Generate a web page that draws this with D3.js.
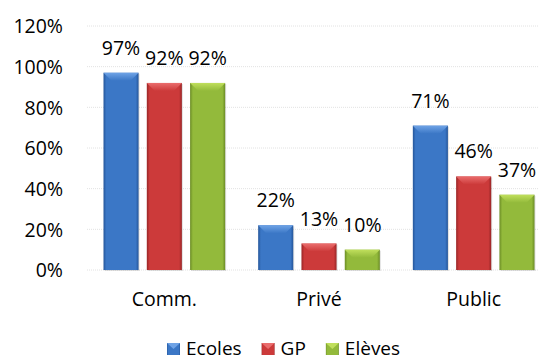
<!DOCTYPE html>
<html>
<head>
<meta charset="utf-8">
<script src="https://cdn.jsdelivr.net/npm/d3@7/dist/d3.min.js"></script>
<style>
html,body{margin:0;padding:0;background:#fff;}
svg{display:block;font-family:"Open Sans",sans-serif;}
</style>
</head>
<body>
<svg id="chart" width="539" height="360"></svg>
<script>
const categories = ["Comm.", "Privé", "Public"];
const seriesNames = ["Ecoles", "GP", "Elèves"];
const ecoles = [0.97, 0.22, 0.71];
const gp = [0.92, 0.13, 0.46];
const eleves = [0.92, 0.10, 0.37];
const tickValues = [0, 0.2, 0.4, 0.6, 0.8, 1.0, 1.2];
const seriesValues = [ecoles, gp, eleves];
const colors = {
  "Ecoles": {mid:"#3b77c6", dark:"#25569a", light:"#6fa3e6"},
  "GP": {mid:"#cc3a3a", dark:"#982526", light:"#ea6d6d"},
  "Elèves": {mid:"#93ba3b", dark:"#6b8c25", light:"#c0df5c"}
};

const svg = d3.select("#chart");
const defs = svg.append("defs");
seriesNames.forEach((s,i)=>{
  const c = colors[s];
  const g = defs.append("linearGradient").attr("id","g"+i).attr("x1","0").attr("x2","1").attr("y1","0").attr("y2","0");
  g.append("stop").attr("offset","0").attr("stop-color",c.dark);
  g.append("stop").attr("offset","0.08").attr("stop-color",c.mid);
  g.append("stop").attr("offset","0.92").attr("stop-color",c.mid);
  g.append("stop").attr("offset","1").attr("stop-color",c.dark);
  const t = defs.append("linearGradient").attr("id","t"+i).attr("x1","0").attr("x2","0").attr("y1","0").attr("y2","1");
  t.append("stop").attr("offset","0").attr("stop-color",c.light);
  t.append("stop").attr("offset","1").attr("stop-color",c.mid);
});

const y = d3.scaleLinear().domain([0,1.2]).range([270,26]);
const x = d3.scaleBand().domain(categories).range([87,551]).paddingInner(0).paddingOuter(0);
const xs = d3.scaleBand().domain(seriesNames).range([16.5, x.bandwidth()-16.5]).paddingInner(0.19).paddingOuter(0);

// gridlines
svg.append("g").selectAll("line").data(tickValues).join("line")
  .attr("x1",87).attr("x2",539)
  .attr("y1",d=>y(d)).attr("y2",d=>y(d))
  .attr("stroke","#e2e2e2").attr("stroke-width",1).attr("stroke-dasharray","1,1");

// y axis labels
const yAxis = d3.axisLeft(y).tickValues(tickValues).tickFormat(d3.format(".0%")).tickSize(0).tickPadding(0);
const ya = svg.append("g").attr("transform","translate(63,0)").call(yAxis);
ya.select(".domain").remove();
ya.selectAll("text").attr("font-size",19.5).attr("font-family","Open Sans").attr("fill","#000").attr("dy","0.35em");

// x axis labels
const xAxis = d3.axisBottom(x).tickSize(0).tickPadding(0);
const xa = svg.append("g").attr("transform","translate(0,292)").call(xAxis);
xa.select(".domain").remove();
xa.selectAll("text").attr("font-size",19.5).attr("font-family","Open Sans").attr("fill","#000");

// bars
const bev = 8;
categories.forEach((cat,ci)=>{
  seriesNames.forEach((s,si)=>{
    const v = seriesValues[si][ci];
    const bx = x(cat)+xs(s), bw = xs.bandwidth();
    const top = y(v), bot = y(0);
    const g = svg.append("g");
    g.append("rect").attr("x",bx+1).attr("y",top+1).attr("width",bw).attr("height",bot-top)
      .attr("fill","#000").attr("opacity",0.12);
    g.append("rect").attr("x",bx).attr("y",top).attr("width",bw).attr("height",bot-top).attr("fill","url(#g"+si+")");
    const h = Math.min(bev, (bot-top)/2);
    g.append("path").attr("d",`M${bx},${top}L${bx+bw},${top}L${bx+bw-h},${top+h}L${bx+h},${top+h}Z`)
      .attr("fill","url(#t"+si+")");
    g.append("text").attr("x",bx+bw/2).attr("y",top-18).attr("text-anchor","middle")
      .attr("font-size",19.5).attr("fill","#000").text(d3.format(".0%")(v));
  });
});

// legend
const legend = svg.append("g");
let lx = 167;
seriesNames.forEach((s,si)=>{
  const c = colors[s];
  legend.append("rect").attr("x",lx).attr("y",343).attr("width",13).attr("height",12).attr("fill","url(#g"+si+")");
  legend.append("path").attr("d",`M${lx},343L${lx+13},343L${lx+6.5},349Z`).attr("fill",c.light);
  const t = legend.append("text").attr("x",lx+19).attr("y",355).attr("font-size",19).attr("fill","#000").text(s);
  lx = lx + 19 + t.node().getComputedTextLength() + 20;
});
</script>
</body>
</html>
